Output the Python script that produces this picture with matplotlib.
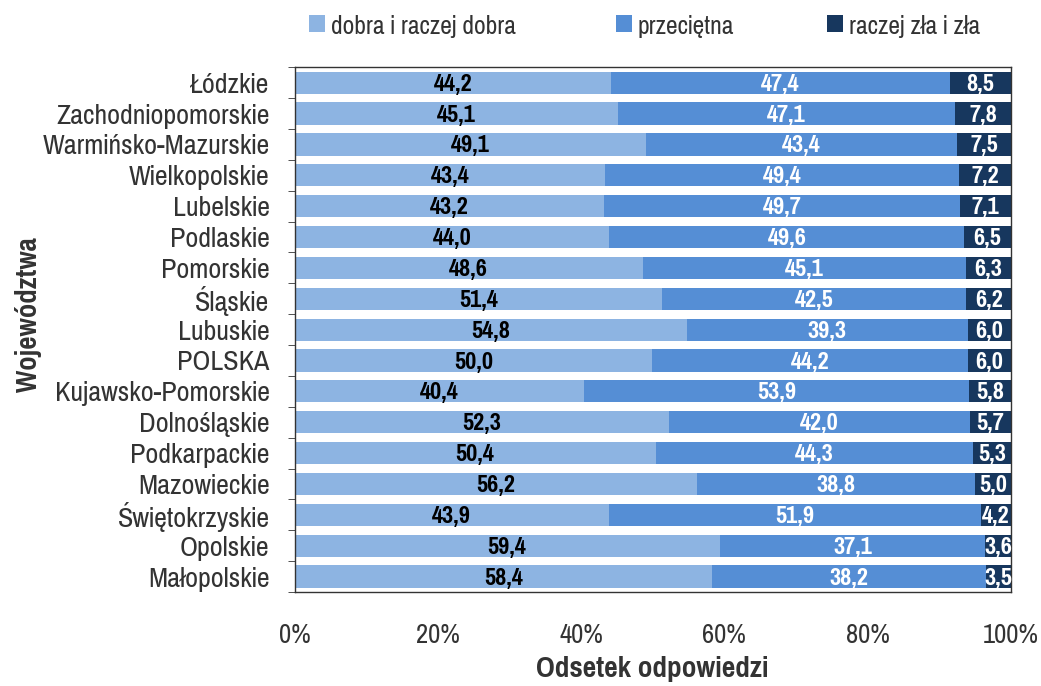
import numpy as np
import matplotlib.pyplot as plt
from matplotlib.ticker import FuncFormatter, FixedLocator

plt.rcParams['font.family'] = ['Pragati Narrow', 'Archivo Narrow', 'DejaVu Sans']

# Data (top to bottom)
regions = ['Łódzkie', 'Zachodniopomorskie', 'Warmińsko-Mazurskie', 'Wielkopolskie',
           'Lubelskie', 'Podlaskie', 'Pomorskie', 'Śląskie', 'Lubuskie', 'POLSKA',
           'Kujawsko-Pomorskie', 'Dolnośląskie', 'Podkarpackie', 'Mazowieckie',
           'Świętokrzyskie', 'Opolskie', 'Małopolskie']
good = [44.2, 45.1, 49.1, 43.4, 43.2, 44.0, 48.6, 51.4, 54.8, 50.0,
        40.4, 52.3, 50.4, 56.2, 43.9, 59.4, 58.4]
average = [47.4, 47.1, 43.4, 49.4, 49.7, 49.6, 45.1, 42.5, 39.3, 44.2,
           53.9, 42.0, 44.3, 38.8, 51.9, 37.1, 38.2]
bad = [8.5, 7.8, 7.5, 7.2, 7.1, 6.5, 6.3, 6.2, 6.0, 6.0,
       5.8, 5.7, 5.3, 5.0, 4.2, 3.6, 3.5]
series_names = ['dobra i raczej dobra', 'przeciętna', 'raczej zła i zła']
colors = ['#8DB4E2', '#558ED5', '#17375E']
text_colors = ['black', 'white', 'white']

series = np.array([good, average, bad])
shares = series / series.sum(axis=0) * 100

fig = plt.figure(figsize=(10.41, 6.86), dpi=100)
ax = fig.add_axes([0.283, 0.137, 0.688, 0.765])

y = np.arange(len(regions))
left = np.zeros(len(regions))
handles = []
for i in range(3):
    bars = ax.barh(y, shares[i], left=left, height=0.72, color=colors[i],
                   label=series_names[i])
    handles.append(bars)
    for j, b in enumerate(bars):
        ax.text(b.get_x() + b.get_width() / 2, y[j] + 0.05,
                f"{series[i][j]:.1f}".replace('.', ','),
                ha='center', va='center', color=text_colors[i],
                fontsize=19, fontweight='bold')
    left += shares[i]

ax.set_xlim(0, 100)
ax.set_ylim(len(regions) - 0.5, -0.5)
ax.set_yticks(y)
ax.set_yticklabels(regions, fontsize=22, color='#333333')
ax.yaxis.set_minor_locator(FixedLocator(np.arange(-0.5, len(regions), 1)))
ax.tick_params(axis='y', which='major', length=0, pad=18)
ax.tick_params(axis='y', which='minor', length=5, color='#333333')
ax.set_xticks(np.arange(0, 101, 20))
ax.xaxis.set_major_formatter(FuncFormatter(lambda v, p: f"{v:.0f}%"))
ax.tick_params(axis='x', length=0, pad=22, labelsize=21, labelcolor='#333333')

for s in ax.spines.values():
    s.set_color('#333333')
    s.set_linewidth(1.0)

ax.set_xlabel('Odsetek odpowiedzi', fontsize=23, fontweight='bold',
              color='#333333', labelpad=6)
ax.set_ylabel('Województwa', fontsize=22.5, fontweight='bold', color='#333333')
ax.yaxis.set_label_coords(-0.352, 0.528)

# legend entries placed like the original (uneven spacing)
legend_x = [0.2968, 0.5917, 0.7944]
for h, name, lx in zip(handles, series_names, legend_x):
    fig.legend([h], [name], loc='center left', bbox_to_anchor=(lx, 0.962),
               frameon=False, fontsize=20, handlelength=0.58, handleheight=0.58,
               handletextpad=0.2, labelcolor='#333333', borderpad=0,
               borderaxespad=0)

fig.savefig('out.png', dpi=100)
